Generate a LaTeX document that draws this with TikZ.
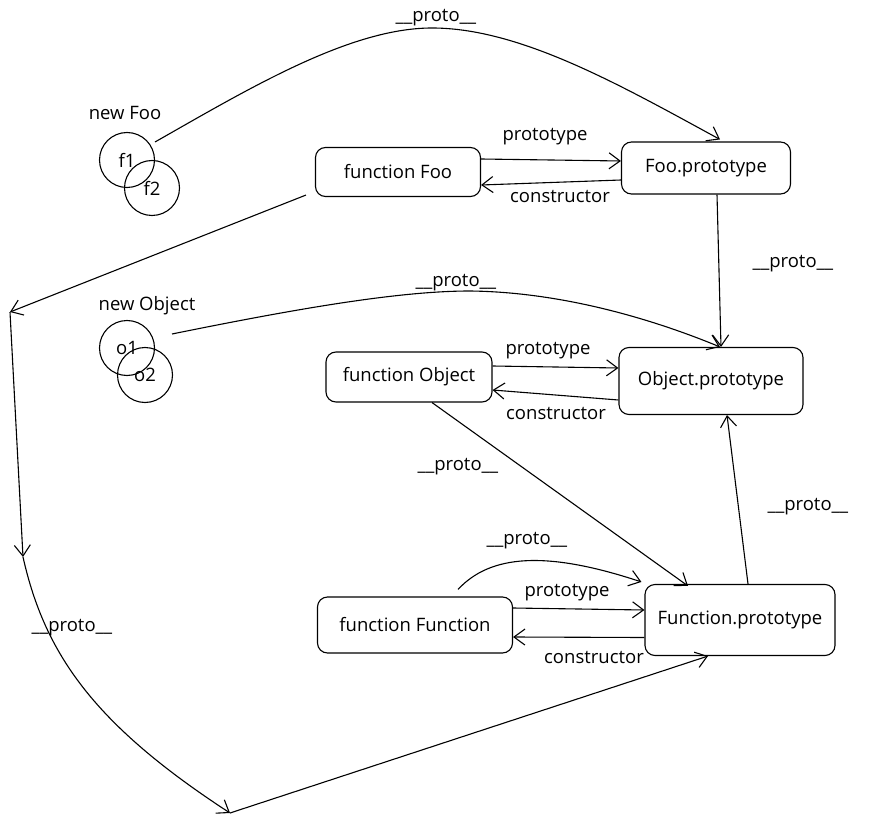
\documentclass[tikz,border=0pt]{standalone}
\usepackage{fontspec}
\setmainfont{Open Sans}
\usetikzlibrary{arrows.meta}
\begin{document}
\begin{tikzpicture}[x=1pt,y=1pt,
  every node/.style={font=\fontsize{18.5}{22}\selectfont},
  objbox/.style={draw, line width=1.1pt, rounded corners=10pt, inner sep=0pt},
  inst/.style={draw, circle, line width=1.1pt, inner sep=0pt, minimum size=55pt},
  lbl/.style={inner sep=1pt},
  conn/.style={line width=1.1pt, -{Straight Barb[length=11pt,width=16pt,line width=1.1pt]}}
]
\useasboundingbox (0,0) rectangle (875,-818);

% instances
\node[lbl] (lfoo) at (125,-113) {new Foo};
\node[inst] (f1) at (127,-160) {f1};
\node[inst] (f2) at (152,-188) {f2};
\node[lbl] (lobj) at (147,-306) {new Object};
\node[inst] (o1) at (127,-348) {o1};
\node[inst] (o2) at (145,-375) {o2};

% boxes
\node[objbox, minimum width=165pt, minimum height=49pt] (fFoo) at (398,-172) {function Foo};
\node[objbox, minimum width=169pt, minimum height=52pt] (FooP) at (706,-168) {Foo.prototype};
\node[objbox, minimum width=166pt, minimum height=50pt] (fObj) at (409,-377) {function Object};
\node[objbox, minimum width=184pt, minimum height=67pt] (ObjP) at (711,-381) {Object.prototype};
\node[objbox, minimum width=195pt, minimum height=56pt] (fFun) at (415,-625) {function Function};
\node[objbox, minimum width=190pt, minimum height=71pt] (FunP) at (740,-620) {Function.prototype};

% free bend points of the long chain
\coordinate (c1) at (10,-312);
\coordinate (c2) at (23,-557);
\coordinate (c3) at (230,-813);
\coordinate (top) at (432,-28);
\coordinate (mid) at (470,-291);

% Foo
\draw[conn] ([shift={(28,18)}]f1.center) .. controls (250,-88) and (350,-28) .. (top)
  .. controls (520,-28) and (620,-85) .. ([xshift=14pt,yshift=2pt]FooP.north);
\node[lbl] at (436,-18) {\_\_proto\_\_};
\draw[conn] ([yshift=13pt]fFoo.east) -- ([yshift=7pt]FooP.west);
\node[lbl] at (545,-137) {prototype};
\draw[conn] ([yshift=-12pt]FooP.west) -- ([yshift=-13pt]fFoo.east);
\node[lbl] at (560,-196) {constructor};
\draw[conn] ([xshift=11pt]FooP.south) -- ([xshift=10pt]ObjP.north);
\node[lbl] at (793,-264) {\_\_proto\_\_};

% long chain from function Foo to Function.prototype
\draw[conn] ([xshift=-9pt,yshift=2pt]fFoo.south west) -- (c1);
\draw[conn] (c1) -- (c2);
\draw[conn] (c2) .. controls (45,-655) and (95,-725) .. (c3);
\node[lbl] at (72,-628) {\_\_proto\_\_};
\draw[conn] (c3) -- ([xshift=-32pt]FunP.south);

% Object
\draw[conn] ([shift={(45,14)}]o1.center) .. controls (300,-308) and (400,-291) .. (mid)
  .. controls (560,-292) and (650,-318) .. ([xshift=9pt]ObjP.north);
\node[lbl] at (456,-283) {\_\_proto\_\_};
\draw[conn] ([yshift=11pt]fObj.east) -- ([yshift=13pt]ObjP.west);
\node[lbl] at (548,-351) {prototype};
\draw[conn] ([yshift=-19pt]ObjP.west) -- ([yshift=-13pt]fObj.east);
\node[lbl] at (556,-413) {constructor};
\draw[conn] ([xshift=23pt]fObj.south) -- ([xshift=-52pt,yshift=-2pt]FunP.north);
\node[lbl] at (458,-467) {\_\_proto\_\_};

% Function
\draw[conn] ([xshift=8pt]FunP.north) -- ([xshift=16pt]ObjP.south);
\node[lbl] at (808,-507) {\_\_proto\_\_};
\draw[conn] ([shift={(43pt,7pt)}]fFun.north) .. controls (490,-555) and (545,-550) .. ([xshift=-3pt,yshift=2pt]FunP.north west);
\node[lbl] at (527,-541) {\_\_proto\_\_};
\draw[conn] ([yshift=17pt]fFun.east) -- ([yshift=10pt]FunP.west);
\node[lbl] at (567,-593) {prototype};
\draw[conn] ([yshift=-17.5pt]FunP.west) -- ([yshift=-12pt]fFun.east);
\node[lbl] at (594,-657) {constructor};
\end{tikzpicture}
\end{document}
